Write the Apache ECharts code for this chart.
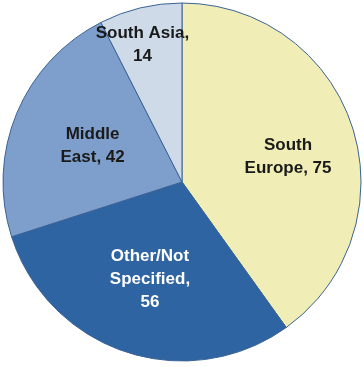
<!DOCTYPE html>
<html><head><meta charset="utf-8">
<script src="https://cdn.jsdelivr.net/npm/echarts@6/dist/echarts.min.js"></script>
<style>html,body{margin:0;padding:0;background:#fff}#c{width:364px;height:367px}</style>
</head><body><div id="c"></div>
<script>
const categories = ['South\nEurope', 'Other/Not\nSpecified,', 'Middle\nEast', 'South Asia,'];
const values = [75, 56, 42, 14];
const colors = ['#F0EEB6', '#2E64A2', '#7E9ECB', '#CFDAE9'];
const labelText = ['South\nEurope, 75', 'Other/Not\nSpecified,\n56', 'Middle\nEast, 42', 'South Asia,\n14'];
const labelOffsets = [[18, 3], [-3, 9], [-4, -1], [-18, -47]];
const labelColors = ['#1a1a1a', '#ffffff', '#1a1a1a', '#1a1a1a'];

const chart = echarts.init(document.getElementById('c'));
chart.setOption({
  animation: false,
  backgroundColor: '#ffffff',
  series: [{
    type: 'pie',
    center: [182, 182],
    radius: [0, 179],
    startAngle: 90,
    clockwise: true,
    label: {
      show: true, position: 'inside',
      fontFamily: 'Liberation Sans, Arial, sans-serif',
      fontWeight: 'bold', fontSize: 17, lineHeight: 23, align: 'center'
    },
    labelLine: { show: false },
    itemStyle: { borderColor: '#3A6395', borderWidth: 1 },
    emphasis: { disabled: true },
    data: values.map((v, i) => ({
      name: categories[i], value: v,
      itemStyle: { color: colors[i] },
      label: { formatter: labelText[i], color: labelColors[i], offset: labelOffsets[i] }
    }))
  }]
});
</script></body></html>
